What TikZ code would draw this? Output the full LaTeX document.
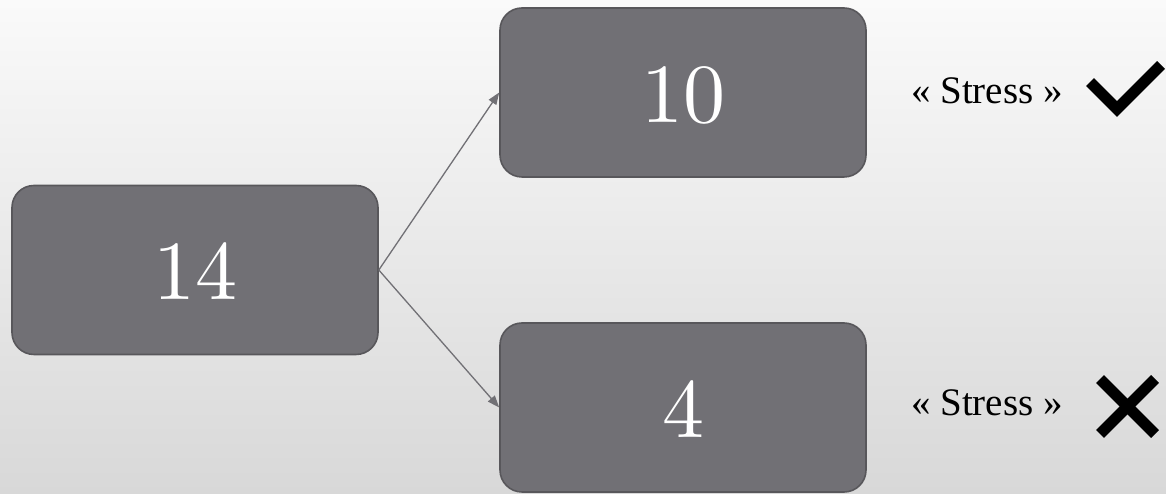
\documentclass[tikz,border=0pt]{standalone}
\usepackage{fontspec}
\usetikzlibrary{arrows.meta}
\newfontfamily\numfont[Extension=.otf]{lmroman10-regular}
\newfontfamily\labfont{Liberation Serif}
\definecolor{boxgray}{RGB}{113,112,117}
\definecolor{boxedge}{RGB}{88,87,91}
\definecolor{bgtop}{RGB}{250,250,250}
\definecolor{bgbot}{RGB}{216,216,216}
\tikzset{
  numbox/.style={rounded corners=22pt, minimum width=366pt, minimum height=169pt,
    draw=boxedge, line width=1.6pt, fill=boxgray, text=white, inner sep=0pt,
    font=\numfont\fontsize{84}{84}\selectfont, text height=60pt, text depth=0pt},
  link/.style={draw=boxgray, line width=1.3pt, -{Triangle[length=12pt,width=9pt]}},
  stresslabel/.style={anchor=base west, inner sep=0pt, font=\labfont\fontsize{39}{42}\selectfont, text=black},
  tickstroke/.style={line width=11pt, black}
}
\begin{document}
\begin{tikzpicture}[x=1pt,y=1pt]
  \shade[top color=bgtop, bottom color=bgbot] (0,0) rectangle (1166,494);
  \useasboundingbox (0,0) rectangle (1166,494);
  \node[numbox] (b14) at (195,224) {14};
  \node[numbox] (b10) at (683,401.5) {10};
  \node[numbox] (b4)  at (683,86.5) {4};
  \draw[link] (b14.east) -- (b10.west);
  \draw[link] (b14.east) -- (b4.west);
  \node[stresslabel] (s1) at (911,390) {« Stress »};
  \node[stresslabel] (s2) at (911,78) {« Stress »};
  \draw[tickstroke, line join=miter] (1090,412) -- (1117,385) -- (1161,429);
  \draw[tickstroke] (1100,115) -- (1155,60);
  \draw[tickstroke] (1100,60) -- (1155,115);
\end{tikzpicture}
\end{document}
